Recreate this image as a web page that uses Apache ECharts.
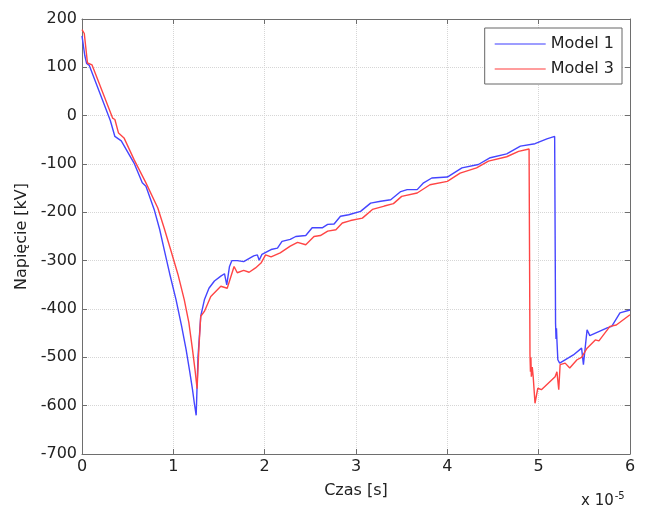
<!DOCTYPE html>
<html>
<head>
<meta charset="utf-8">
<script src="https://cdn.jsdelivr.net/npm/echarts@6/dist/echarts.min.js"></script>
<style>
html,body{margin:0;padding:0;background:#fff;}
#chart{width:651px;height:513px;}
</style>
</head>
<body>
<div id="chart"></div>
<script>
// Time in units of 1e-5 s, voltage in kV
const model1T = [0, 0.03, 0.05, 0.08, 0.31, 0.33, 0.36, 0.43, 0.57, 0.66, 0.70, 0.79, 0.85, 0.90, 0.96, 1.03, 1.09, 1.14, 1.18, 1.21, 1.23, 1.25, 1.27, 1.30, 1.34, 1.39, 1.45, 1.52, 1.56, 1.585, 1.615, 1.64, 1.70, 1.77, 1.88, 1.92, 1.94, 1.97, 2.07, 2.14, 2.19, 2.28, 2.34, 2.45, 2.52, 2.63, 2.69, 2.76, 2.83, 2.92, 3.05, 3.16, 3.27, 3.38, 3.49, 3.56, 3.67, 3.74, 3.83, 4.00, 4.16, 4.34, 4.47, 4.65, 4.80, 4.96, 5.09, 5.175, 5.185, 5.19, 5.195, 5.20, 5.21, 5.23, 5.25, 5.38, 5.47, 5.49, 5.53, 5.56, 5.75, 5.80, 5.89, 6.0];
const model1V = [165, 125, 108, 104, -10, -14, -43, -52, -98, -139, -146, -194, -235, -277, -327, -381, -435, -484, -530, -567, -595, -620, -500, -415, -381, -357, -342, -332, -327, -350, -312, -300, -300, -302, -290, -288, -299, -287, -277, -274, -260, -256, -250, -248, -232, -232, -225, -224, -208, -205, -198, -181, -177, -174, -157, -153, -153, -139, -129, -127, -108, -101, -87, -79, -63, -58, -48, -43, -430, -462, -440, -465, -505, -512, -515, -495, -481, -515, -443, -455, -439, -436, -408, -402];

const model3T = [0, 0.025, 0.06, 0.11, 0.335, 0.36, 0.40, 0.46, 0.57, 0.70, 0.83, 0.90, 0.97, 1.05, 1.12, 1.17, 1.21, 1.24, 1.26, 1.28, 1.30, 1.34, 1.41, 1.52, 1.59, 1.61, 1.665, 1.70, 1.77, 1.83, 1.90, 1.96, 2.01, 2.07, 2.17, 2.28, 2.36, 2.45, 2.54, 2.61, 2.69, 2.78, 2.85, 2.94, 3.07, 3.18, 3.31, 3.41, 3.50, 3.67, 3.81, 4.00, 4.14, 4.32, 4.45, 4.65, 4.78, 4.895, 4.905, 4.91, 4.915, 4.92, 4.93, 4.94, 4.96, 4.99, 5.03, 5.18, 5.20, 5.22, 5.235, 5.29, 5.34, 5.42, 5.47, 5.53, 5.62, 5.66, 5.78, 5.85, 6.0];
const model3V = [178, 170, 109, 105, -5, -8, -36, -46, -91, -139, -191, -233, -277, -328, -381, -428, -484, -530, -565, -480, -415, -405, -374, -353, -357, -360, -312, -325, -320, -324, -315, -305, -288, -292, -284, -270, -262, -267, -250, -248, -239, -236, -222, -217, -212, -194, -187, -182, -167, -160, -143, -136, -119, -108, -94, -85, -74, -69, -495, -530, -500, -540, -520, -540, -595, -564, -567, -540, -530, -567, -515, -512, -522, -505, -500, -481, -464, -466, -436, -433, -412];

const xTicks = ['0', '1', '2', '3', '4', '5', '6'];
const seriesNames = ['Model 1', 'Model 3'];

const zip = (a, b) => a.map((t, i) => [t, b[i]]);
const font = 'DejaVu Sans';
const frame = '#6e6e6e';
const blue = '#4545ff';
const red = '#ff4545';

const chart = echarts.init(document.getElementById('chart'), null, {renderer: 'canvas'});
chart.setOption({
  animation: false,
  backgroundColor: '#fff',
  textStyle: {fontFamily: font},
  grid: {left: 82, right: 21, top: 19, bottom: 59, containLabel: false},
  legend: {
    orient: 'vertical',
    right: 29, top: 28,
    padding: [8, 8, 7, 10],
    icon: 'rect',
    itemWidth: 51, itemHeight: 1.5, itemGap: 9,
    borderColor: '#666', borderWidth: 1, backgroundColor: '#fff',
    textStyle: {fontFamily: font, fontSize: 16, color: '#222'},
    data: [
      {name: seriesNames[0], itemStyle: {color: '#7d7dff'}},
      {name: seriesNames[1], itemStyle: {color: '#ff7d7d'}}
    ]
  },
  xAxis: [{
    type: 'value', min: 0, max: 6, interval: 1,
    name: 'Czas [s]', nameLocation: 'middle', nameGap: 29,
    nameTextStyle: {fontFamily: font, fontSize: 16, color: '#222'},
    axisLine: {show: true, onZero: false, lineStyle: {color: frame, width: 1}},
    axisTick: {show: true, inside: true, length: 5, lineStyle: {color: frame}},
    axisLabel: {margin: 5, fontFamily: font, fontSize: 16, color: '#222',
      formatter: v => xTicks[Math.round(v)]},
    splitLine: {show: true, lineStyle: {color: '#d6d6d6', type: 'dotted', width: 1}}
  }, {
    type: 'value', min: 0, max: 6, interval: 1, position: 'top',
    axisLine: {show: true, onZero: false, lineStyle: {color: frame, width: 1}},
    axisTick: {show: true, inside: true, length: 5, lineStyle: {color: frame}},
    axisLabel: {show: false}, splitLine: {show: false}
  }],
  yAxis: [{
    type: 'value', min: -700, max: 200, interval: 100,
    name: 'Napięcie [kV]', nameLocation: 'middle', nameGap: 50,
    nameTextStyle: {fontFamily: font, fontSize: 16, color: '#222'},
    axisLine: {show: true, onZero: false, lineStyle: {color: frame, width: 1}},
    axisTick: {show: true, inside: true, length: 5, lineStyle: {color: frame}},
    axisLabel: {margin: 5, fontFamily: font, fontSize: 16, color: '#222'},
    splitLine: {show: true, lineStyle: {color: '#d6d6d6', type: 'dotted', width: 1}}
  }, {
    type: 'value', min: -700, max: 200, interval: 100, position: 'right',
    axisLine: {show: true, onZero: false, lineStyle: {color: frame, width: 1}},
    axisTick: {show: true, inside: true, length: 5, lineStyle: {color: frame}},
    axisLabel: {show: false}, splitLine: {show: false}
  }],
  graphic: [{
    type: 'text', left: 581, top: 491,
    style: {
      text: 'x 10{s|-5}',
      font: '15px "DejaVu Sans"', fill: '#222',
      rich: {s: {fontSize: 10, fontFamily: font, fill: '#222', verticalAlign: 'top', padding: [0, 0, 10, 1]}}
    }
  }],
  series: [{
    name: seriesNames[0], type: 'line', showSymbol: false, symbol: 'none',
    xAxisIndex: 0, yAxisIndex: 0,
    data: zip(model1T, model1V),
    lineStyle: {color: blue, width: 1.4},
    itemStyle: {color: blue}
  }, {
    name: seriesNames[1], type: 'line', showSymbol: false, symbol: 'none',
    xAxisIndex: 0, yAxisIndex: 0,
    data: zip(model3T, model3V),
    lineStyle: {color: red, width: 1.4},
    itemStyle: {color: red}
  }]
});
</script>
</body>
</html>
